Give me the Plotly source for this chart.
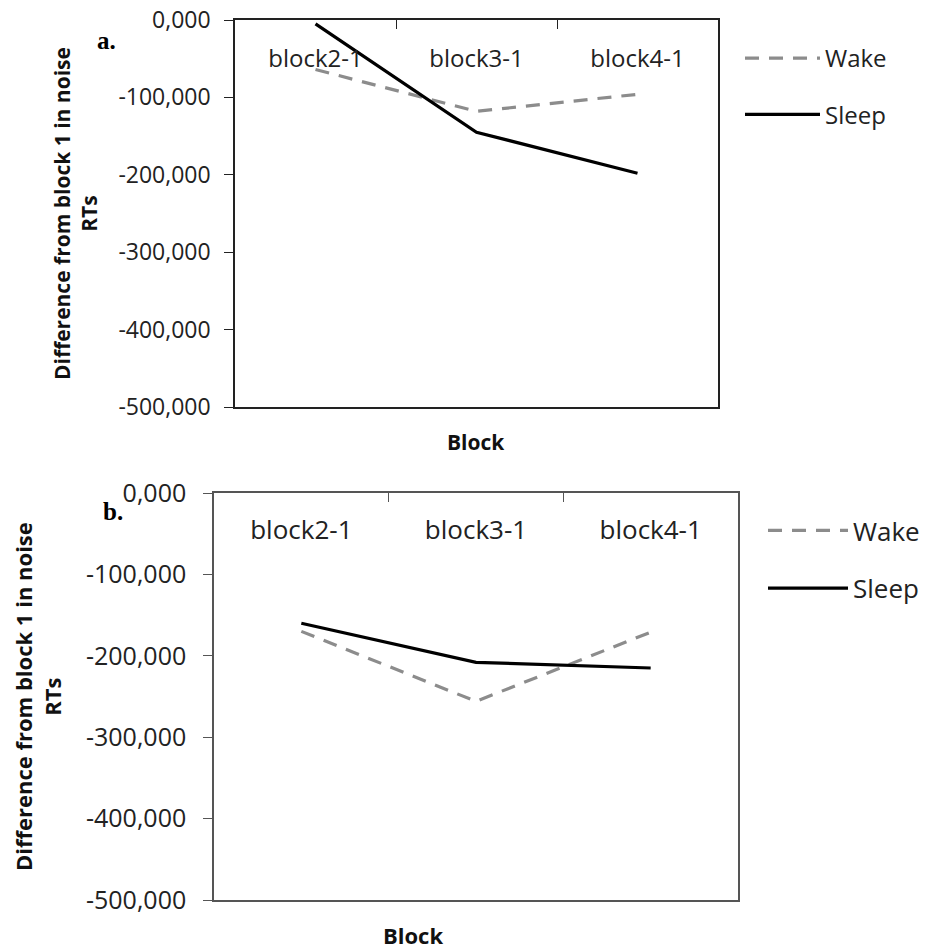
import plotly.graph_objects as go

categories = ["block2-1", "block3-1", "block4-1"]
wake_a = [-64, -118, -96]
sleep_a = [-5, -145, -198]
wake_b = [-170, -256, -171]
sleep_b = [-160, -208, -215]
ytick_vals = [0, -100, -200, -300, -400, -500]
ytick_text = ["0,000", "-100,000", "-200,000", "-300,000", "-400,000", "-500,000"]

FONT = "Open Sans"
W, H = 925, 949

fig = go.Figure()

def add_pair(wake, sleep, xa, ya, legend):
    fig.add_trace(go.Scatter(x=categories, y=wake, name="Wake", mode="lines",
                             line=dict(color="#8c8c8c", width=3.2, dash="14px,10px"),
                             xaxis=xa, yaxis=ya, legend=legend, legendgroup=legend + "w"))
    fig.add_trace(go.Scatter(x=categories, y=sleep, name="Sleep", mode="lines",
                             line=dict(color="#000000", width=3.2),
                             xaxis=xa, yaxis=ya, legend=legend, legendgroup=legend + "s"))

add_pair(wake_a, sleep_a, "x", "y", "legend")
add_pair(wake_b, sleep_b, "x2", "y2", "legend2")

def px_x(p):
    return p / W

def px_y(p):
    return 1 - p / H

def xaxis_cfg(left, right, color):
    return dict(domain=[px_x(left), px_x(right)], type="category", range=[-0.5, 2.5],
                side="top", ticks="inside", ticklen=9, tickcolor=color, tickson="boundaries",
                showticklabels=False, automargin=False,
                showline=True, linecolor=color, linewidth=1.5, mirror=True,
                showgrid=False, zeroline=False)

def xlabel_cfg(left, right, label_top, over, fsize):
    # category labels drawn by an overlaid axis positioned inside the plot area
    return dict(domain=[px_x(left), px_x(right)], overlaying=over, anchor="free",
                position=px_y(label_top), side="bottom", range=[-0.5, 2.5],
                tickvals=list(range(len(categories))), ticktext=categories,
                ticks="", showline=False, showgrid=False, zeroline=False, automargin=False,
                tickfont=dict(family=FONT, size=fsize, color="#222222"))

def yaxis_cfg(top, bottom, color, fsize, standoff):
    return dict(domain=[px_y(bottom), px_y(top)], range=[-500, 0],
                tickvals=ytick_vals, ticktext=ytick_text,
                ticks="outside", ticklen=9, tickcolor=color, automargin=False,
                ticklabelstandoff=standoff,
                showline=True, linecolor=color, linewidth=1.5, mirror=True,
                showgrid=False, zeroline=False,
                tickfont=dict(family=FONT, size=fsize, color="#222222"))

fig.update_layout(
    width=W, height=H,
    margin=dict(l=0, r=0, t=0, b=0, autoexpand=False),
    paper_bgcolor="white", plot_bgcolor="white",
    xaxis=xaxis_cfg(235, 718, "#222222"),
    yaxis=yaxis_cfg(20, 407, "#222222", 23, 9),
    xaxis2=dict(xaxis_cfg(214, 738, "#555555"), anchor="y2"),
    yaxis2=dict(yaxis_cfg(493, 900, "#555555", 25, 12), anchor="x2"),
    xaxis3=xlabel_cfg(235, 718, 42, "x", 24),
    xaxis4=xlabel_cfg(214, 738, 512, "x2", 26),
    legend=dict(x=px_x(740), y=px_y(36), xanchor="left", yanchor="top",
                font=dict(family=FONT, size=24, color="#222222"),
                itemwidth=75, tracegroupgap=22, bgcolor="rgba(0,0,0,0)"),
    legend2=dict(x=px_x(763), y=px_y(507), xanchor="left", yanchor="top",
                 font=dict(family=FONT, size=26, color="#222222"),
                 itemwidth=80, tracegroupgap=21, bgcolor="rgba(0,0,0,0)"),
    showlegend=True,
)

# invisible anchor traces so the label axes are drawn
fig.add_trace(go.Scatter(x=[None], y=[None], xaxis="x3", yaxis="y", showlegend=False, hoverinfo="skip"))
fig.add_trace(go.Scatter(x=[None], y=[None], xaxis="x4", yaxis="y2", showlegend=False, hoverinfo="skip"))

ytitle = "Difference from block 1 in noise<br>RTs"
annotations = [
    dict(text="<b>" + ytitle + "</b>", x=px_x(75), y=px_y(214), textangle=-90, size=21),
    dict(text="<b>" + ytitle + "</b>", x=px_x(37), y=px_y(697), textangle=-90, size=22),
    dict(text="<b>Block</b>", x=px_x(476), y=px_y(442), size=21),
    dict(text="<b>Block</b>", x=px_x(413), y=px_y(935), size=22),
]
for a in annotations:
    size = a.pop("size")
    fig.add_annotation(xref="paper", yref="paper", showarrow=False,
                       xanchor="center", yanchor="middle",
                       font=dict(family=FONT, size=size, color="#111111"), **a)

for txt, x, y in [("a.", 106, 40), ("b.", 113, 512)]:
    fig.add_annotation(text="<b>" + txt + "</b>", xref="paper", yref="paper",
                       x=px_x(x), y=px_y(y), showarrow=False,
                       xanchor="center", yanchor="middle",
                       font=dict(family="Liberation Serif", size=25, color="#000000"))

fig.write_html("out.html")
